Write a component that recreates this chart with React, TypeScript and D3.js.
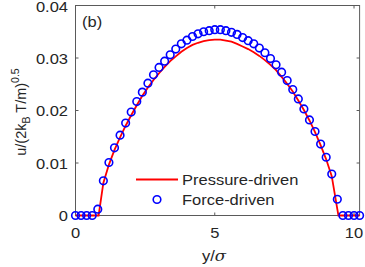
import React from "react";
import * as d3 from "d3";

const forceX = [0,0.2,0.4,0.6,0.8,1.0,1.2,1.4,1.6,1.8,2.0,2.2,2.4,2.6,2.8,3.0,3.2,3.4,3.6,3.8,4.0,4.2,4.4,4.6,4.8,5.0,5.2,5.4,5.6,5.8,6.0,6.2,6.4,6.6,6.8,7.0,7.2,7.4,7.6,7.8,8.0,8.2,8.4,8.6,8.8,9.0,9.2,9.4,9.6,9.8,10.0,10.2];
const forceU = [0,0,0,0,0.0012,0.0066,0.0101,0.0129,0.0153,0.0176,0.0197,0.0217,0.0235,0.0252,0.0268,0.0282,0.0294,0.0306,0.0317,0.0327,0.0334,0.0341,0.0346,0.0350,0.0352,0.0354,0.0354,0.0352,0.0349,0.0345,0.0339,0.0333,0.0327,0.0319,0.0310,0.0299,0.0287,0.0273,0.0257,0.0240,0.0222,0.0203,0.0182,0.0160,0.0136,0.0111,0.0079,0.0031,0,0,0,0];

const pressX = [0,0.83,1.0,1.2,1.4,1.6,1.8,2.0,2.2,2.4,2.6,2.8,3.0,3.2,3.4,3.6,3.8,4.0,4.2,4.4,4.6,4.8,5.0,5.2,5.4,5.6,5.8,6.0,6.2,6.4,6.6,6.8,7.0,7.2,7.4,7.6,7.8,8.0,8.2,8.4,8.6,8.8,9.0,9.2,9.4,9.44,10.2];
const pressU = [0,0,0.0062,0.0097,0.0125,0.0149,0.0171,0.0191,0.0210,0.0228,0.0244,0.0258,0.0271,0.0283,0.0294,0.0303,0.0312,0.0319,0.0325,0.0329,0.0332,0.0334,0.0335,0.0335,0.0333,0.0331,0.0327,0.0322,0.0317,0.0311,0.0304,0.0296,0.0287,0.0277,0.0264,0.0251,0.0236,0.0219,0.0201,0.0181,0.0159,0.0134,0.0107,0.0075,0.0012,0,0];

const xTicks = [0, 5, 10];
const yTicks = [0, 0.01, 0.02, 0.03, 0.04];
const legendLabels = ["Pressure-driven", "Force-driven"];

const font = "'Liberation Sans', Arial, Helvetica, sans-serif";

function T({ x, y, anchor = "start", rotate = 0, children, size = 15, sx = 1.1 }: any) {
  return (
    <text
      transform={`translate(${x},${y}) rotate(${rotate}) scale(${sx},1)`}
      fontSize={size}
      fontFamily={font}
      textAnchor={anchor}
      fill="#262626"
    >
      {children}
    </text>
  );
}

export default function App() {
  const W = 365, H = 267;
  const x = d3.scaleLinear().domain([0, 10.2]).range([75.5, 359.6]);
  const y = d3.scaleLinear().domain([0, 0.04]).range([215.5, 5.5]);
  const line = d3.line<number>().x((_, i) => x(pressX[i])).y((d) => y(d));
  const axisColor = "#5a5a5a";
  const [x0, x1] = x.range();
  const [y0, y1] = y.range();
  return (
    <svg width={W} height={H} style={{ position: "absolute", left: 0, top: 0 }}>
      <rect x={0} y={0} width={W} height={H} fill="#fff" />
      <rect x={x0} y={y1} width={x1 - x0} height={y0 - y1} fill="none" stroke={axisColor} strokeWidth={1} />
      {xTicks.map((t) => (
        <g key={"xt" + t}>
          <line x1={x(t)} x2={x(t)} y1={y0} y2={y0 - 3} stroke={axisColor} />
          <line x1={x(t)} x2={x(t)} y1={y1} y2={y1 + 3} stroke={axisColor} />
          <T x={x(t)} y={238} anchor="middle">{t}</T>
        </g>
      ))}
      {yTicks.map((t) => (
        <g key={"yt" + t}>
          <line x1={x0} x2={x0 + 3} y1={y(t)} y2={y(t)} stroke={axisColor} />
          <line x1={x1} x2={x1 - 3} y1={y(t)} y2={y(t)} stroke={axisColor} />
          <T x={68} y={Math.max(y(t) + 5.5, 12)} anchor="end">{t === 0 ? "0" : t.toFixed(2)}</T>
        </g>
      ))}
      <T x={82} y={27}>(b)</T>
      <path d={line(pressU) || ""} fill="none" stroke="#ff0000" strokeWidth={1.8} />
      {forceU.map((v, i) => (
        <circle key={"c" + i} cx={x(forceX[i])} cy={y(v)} r={3.8} fill="none" stroke="#0000ff" strokeWidth={1.6} />
      ))}
      <line x1={136} x2={178} y1={179.5} y2={179.5} stroke="#ff0000" strokeWidth={1.8} />
      <T x={182} y={185}>{legendLabels[0]}</T>
      <circle cx={157} cy={199.5} r={3.8} fill="none" stroke="#0000ff" strokeWidth={1.6} />
      <T x={182} y={205}>{legendLabels[1]}</T>
      <T x={214} y={261} anchor="middle">
        y/<tspan fontFamily="'DejaVu Serif', 'Liberation Serif', serif" fontStyle="italic">σ</tspan>
      </T>
      <T x={26} y={112} anchor="middle" rotate={-90} size={14.5} sx={1}>
        u/(2k<tspan fontSize={10.5} dy={4}>B</tspan><tspan dy={-4}> T/m)</tspan><tspan fontSize={10.5} dy={-7}>0.5</tspan>
      </T>
    </svg>
  );
}
